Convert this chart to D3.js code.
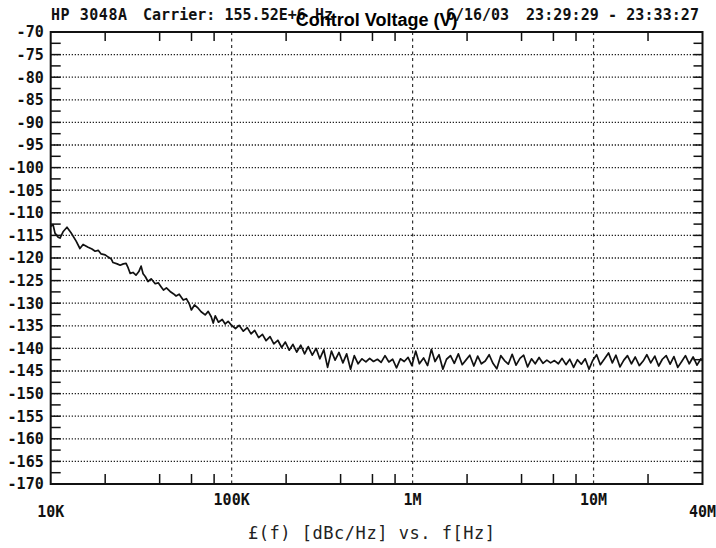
<!DOCTYPE html>
<html>
<head>
<meta charset="utf-8">
<script src="https://cdn.jsdelivr.net/npm/d3@7"></script>
<style>
  html, body { margin: 0; padding: 0; background: #fff; }
  svg { display: block; }
</style>
</head>
<body>
<svg id="chart" width="716" height="548"></svg>
<script>
// frequency points of the trace, in kHz
const freqKHz = [
  10.0, 10.3, 10.56, 11.0, 11.26, 11.7, 12.3, 12.95, 13.8, 14.5,
  15.1, 16.1, 16.9, 17.6, 18.3, 19.0, 20.0, 20.8, 21.6, 22.1,
  23.3, 24.2, 25.2, 26.1, 26.8, 27.5, 28.5, 29.6, 30.7, 31.6,
  32.4, 33.3, 34.5, 35.9, 37.8, 39.3, 40.8, 42.0, 43.6, 45.7,
  47.6, 49.3, 51.3, 54.0, 56.2, 58.4, 59.9, 62.3, 65.3, 67.8,
  71.4, 74.2, 77.1, 79.1, 81.2, 84.5, 88.7, 92.1, 95.6, 99.3,
  105, 110, 116, 122, 128, 134, 141, 148, 155, 163,
  171, 180, 189, 198, 208, 218, 229, 241, 253, 265,
  279, 293, 307, 323, 339, 356, 373, 392, 412, 432,
  454, 476, 500, 525, 552, 579, 608, 639, 670, 704,
  739, 776, 815, 856, 899, 944, 991,
  1040, 1090, 1150, 1210, 1270, 1330, 1400, 1470, 1540, 1620,
  1700, 1790, 1880, 1970, 2070, 2180, 2290, 2400, 2520, 2650,
  2780, 2920, 3070, 3220, 3380, 3550, 3730, 3920, 4110, 4320,
  4540, 4760, 5000, 5250, 5520, 5790, 6080, 6390, 6700, 7040,
  7390, 7760, 8150, 8560, 8990, 9440, 9910,
  10400, 10900, 11500, 12100, 12700, 13300, 14000, 14700, 15400, 16200,
  17000, 17900, 18800, 19700, 20700, 21800, 22900, 24000, 25200, 26500,
  27800, 29200, 30700, 32200, 33800, 35500, 37300, 39200, 40000
];

// phase noise L(f) in dBc/Hz at those points
const dBcHz = [
  -113.0, -112.6, -114.5, -115.4, -115.6, -114.2, -113.2, -114.4, -116.2, -117.9,
  -117.0, -117.6, -118.0, -118.5, -118.3, -119.1, -119.3, -119.8, -120.2, -121.0,
  -121.3, -121.6, -121.3, -121.2, -122.2, -123.4, -123.2, -123.8, -123.0, -121.8,
  -123.5, -124.1, -125.2, -124.6, -125.7, -125.5, -126.4, -127.1, -126.6, -127.4,
  -127.9, -128.4, -128.0, -129.3, -129.0, -130.2, -131.5, -130.4, -131.1, -131.9,
  -132.6, -131.8, -133.0, -134.4, -132.8, -134.2, -133.6, -134.6, -134.0, -134.8,
  -135.6, -134.9, -136.2, -135.4, -136.8, -136.0, -137.6, -136.9, -138.3, -137.4,
  -139.0, -138.2, -139.8, -138.6, -140.4, -139.1, -140.8, -139.3, -141.2, -139.6,
  -141.5, -140.0, -142.3, -140.3, -144.2, -140.6, -142.6, -140.9, -143.2, -141.2,
  -144.6, -141.6, -143.4, -142.3, -143.0, -142.2, -142.9, -142.4, -143.1, -141.6,
  -143.0, -142.4, -144.3, -142.3, -142.9, -142.0, -143.8,
  -140.6, -143.4, -142.1, -143.8, -140.2, -142.9, -141.4, -144.6, -142.4, -141.6,
  -143.3, -141.2, -143.6, -142.6, -141.5, -143.9, -141.7, -143.4, -142.8, -141.4,
  -143.3, -144.5, -141.6, -142.7, -143.5, -141.3, -143.7, -142.2, -141.5, -144.1,
  -142.3, -143.4, -142.0, -143.3, -142.6, -143.2, -142.7, -143.4, -142.2, -143.6,
  -142.4, -144.2, -142.5, -143.5, -142.3, -144.6, -142.6,
  -141.4, -143.6, -142.3, -141.0, -143.2, -141.5, -144.1, -142.6, -141.6, -143.4,
  -141.9, -143.8, -142.8, -141.4, -143.2, -141.7, -143.9, -142.4, -141.6, -143.5,
  -141.8, -144.2, -142.9, -141.6, -143.4, -141.9, -143.7, -142.3, -142.7
];

const yTicks = [-70, -75, -80, -85, -90, -95, -100, -105, -110, -115, -120,
  -125, -130, -135, -140, -145, -150, -155, -160, -165, -170];
const xDecades = [1e5, 1e6, 1e7];
const xDecadeLabels = ["100K", "1M", "10M"];
const xMinor = [2e4, 4e4, 6e4, 8e4, 2e5, 4e5, 6e5, 8e5, 2e6, 4e6, 6e6, 8e6, 2e7];

const headerLeft = "HP 3048A";
const headerCarrier = "Carrier: 155.52E+6 Hz";
const headerDate = "6/16/03";
const headerTime = "23:29:29 - 23:33:27";
const chartTitle = "Control Voltage (V)";
const xTitle = "£(f) [dBc/Hz] vs. f[Hz]";

const svg = d3.select("#chart");

const x = d3.scaleLog().domain([1e4, 4e7]).range([50.7, 702.5]);
const y = d3.scaleLinear().domain([-170, -70]).range([484, 32]);
const [x0, x1] = x.range();
const [yb, yt] = y.range();

// horizontal dotted grid
svg.append("g")
  .selectAll("line")
  .data(yTicks.filter(v => v !== -70 && v !== -170))
  .enter().append("line")
  .attr("x1", x0).attr("x2", x1)
  .attr("y1", d => y(d)).attr("y2", d => y(d))
  .attr("stroke", "#222")
  .attr("stroke-width", 1.3)
  .attr("stroke-dasharray", "1.3,1.7");

// vertical dashed grid at decades
svg.append("g")
  .selectAll("line")
  .data(xDecades)
  .enter().append("line")
  .attr("x1", d => x(d)).attr("x2", d => x(d))
  .attr("y1", yt).attr("y2", yb)
  .attr("stroke", "#333")
  .attr("stroke-width", 1.2)
  .attr("stroke-dasharray", "3,3.5");

// inward ticks every 2.5 dB, both sides
const halfSteps = d3.range(-167.5, -70, 2.5);
const tk = svg.append("g").attr("stroke", "#111").attr("stroke-width", 1.5);
halfSteps.forEach(v => {
  tk.append("line").attr("x1", x0).attr("x2", x0 + 10).attr("y1", y(v)).attr("y2", y(v));
  tk.append("line").attr("x1", x1 - 9).attr("x2", x1).attr("y1", y(v)).attr("y2", y(v));
});
xMinor.forEach(f => {
  tk.append("line").attr("x1", x(f)).attr("x2", x(f)).attr("y1", yb).attr("y2", yb - 10);
  tk.append("line").attr("x1", x(f)).attr("x2", x(f)).attr("y1", yt).attr("y2", yt + 9);
});

// frame
svg.append("rect")
  .attr("x", x0).attr("y", yt)
  .attr("width", x1 - x0).attr("height", yb - yt)
  .attr("fill", "none")
  .attr("stroke", "#111")
  .attr("stroke-width", 2);

// y labels via d3 axis
const yAxis = d3.axisLeft(y)
  .tickValues(yTicks)
  .tickSize(0)
  .tickPadding(7)
  .tickFormat(d => String(d));
const ya = svg.append("g")
  .attr("transform", `translate(${x0},0)`)
  .call(yAxis);
ya.select(".domain").remove();
ya.selectAll("text")
  .style("font-family", "'DejaVu Sans Mono', monospace")
  .style("font-size", "15px")
  .style("font-weight", "bold")
  .attr("fill", "#111");

// x labels
const lab = svg.append("g")
  .style("font-family", "'DejaVu Sans Mono', monospace")
  .style("font-size", "15px")
  .style("font-weight", "bold")
  .attr("fill", "#111");
lab.selectAll("text.dec")
  .data(xDecades)
  .enter().append("text")
  .attr("class", "dec")
  .attr("x", d => x(d))
  .attr("y", 505)
  .attr("text-anchor", "middle")
  .text((d, i) => xDecadeLabels[i]);
lab.append("text").attr("x", x(1e4)).attr("y", 517)
  .attr("text-anchor", "middle").text("10K");
lab.append("text").attr("x", 716).attr("y", 517)
  .attr("text-anchor", "end").text("40M");

// trace
const pts = freqKHz.map((f, i) => [f * 1000, dBcHz[i]]).filter(p => p[1] !== undefined);
const line = d3.line().x(d => x(d[0])).y(d => y(d[1]));
svg.append("path")
  .datum(pts)
  .attr("d", line)
  .attr("fill", "none")
  .attr("stroke", "#111")
  .attr("stroke-width", 1.7)
  .attr("stroke-linejoin", "round");

// header
const hdr = svg.append("g")
  .style("font-family", "'DejaVu Sans Mono', monospace")
  .style("font-size", "15px")
  .style("font-weight", "bold")
  .attr("fill", "#111");
hdr.append("text").attr("x", 51).attr("y", 20).attr("textLength", 76).text(headerLeft);
hdr.append("text").attr("x", 143).attr("y", 20).attr("textLength", 190).text(headerCarrier);
hdr.append("text").attr("x", 446).attr("y", 20).attr("textLength", 63).text(headerDate);
hdr.append("text").attr("x", 526).attr("y", 20).attr("textLength", 173).text(headerTime);

// overlaid title
svg.append("text")
  .attr("x", (x0 + x1) / 2)
  .attr("y", 26)
  .attr("text-anchor", "middle")
  .style("font-family", "'Liberation Sans', Arial, sans-serif")
  .style("font-size", "18px")
  .style("font-weight", "bold")
  .attr("fill", "#000")
  .text(chartTitle);

// bottom axis title
svg.append("text")
  .attr("x", 248)
  .attr("y", 539)
  .attr("textLength", 247)
  .style("font-family", "'DejaVu Sans Mono', monospace")
  .style("font-size", "17px")
  .attr("fill", "#222")
  .text(xTitle);
</script>
</body>
</html>
